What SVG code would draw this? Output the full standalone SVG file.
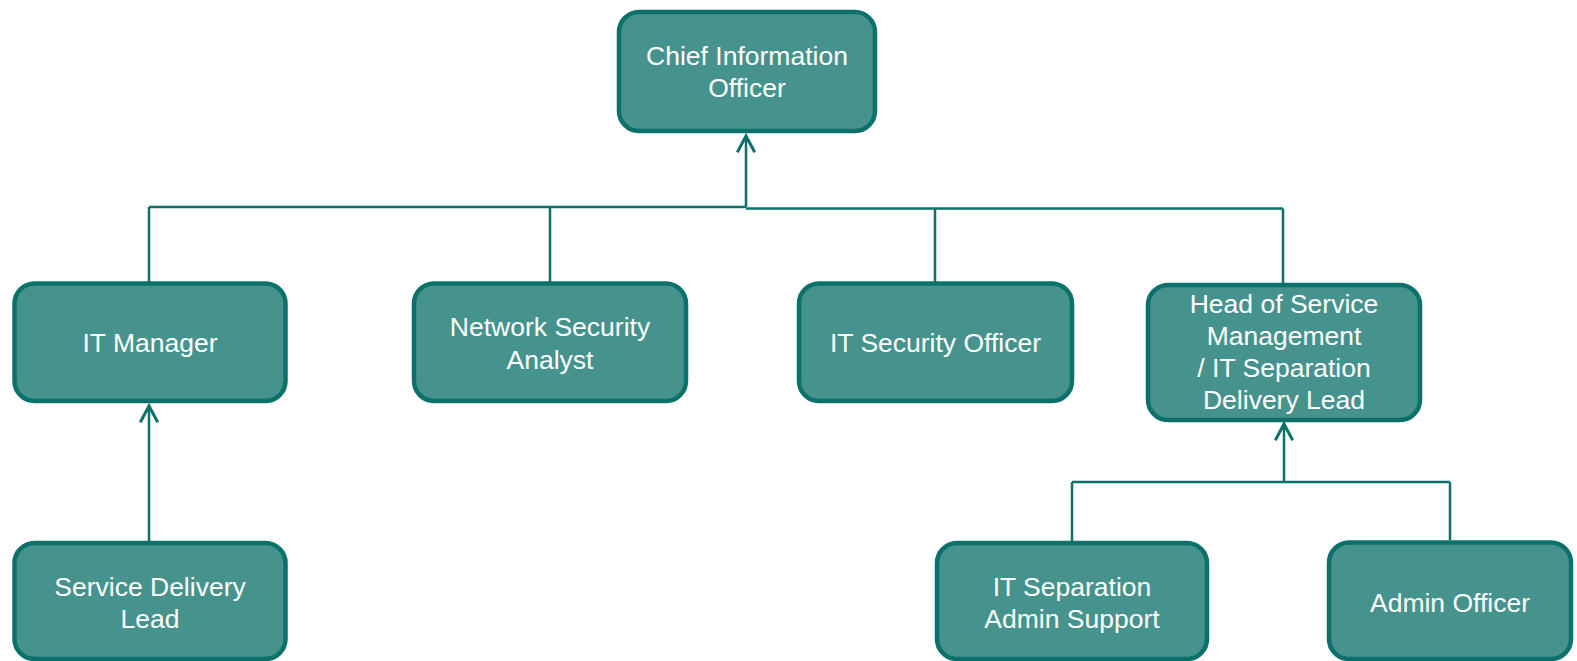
<svg xmlns="http://www.w3.org/2000/svg" width="1577" height="661" viewBox="0 0 1577 661">
<style>
.box{fill:#46938D;stroke:#0C716A;stroke-width:4.5}
.lbl{font-family:"Liberation Sans",Arial,sans-serif;font-size:26.5px;fill:#FFFFFF;text-anchor:middle}
.con{fill:none;stroke:#0C716A;stroke-width:2.5}
.ah{fill:none;stroke:#0C716A;stroke-width:3;stroke-linecap:square}
</style>
<rect width="1577" height="661" fill="#FFFFFF"/>
<g id="connectors">
<path class="con" d="M746 207V136"/>
<path class="ah" d="M738 151L746 136L754 151"/>
<path class="con" d="M149 207H746"/>
<path class="con" d="M746 208.5H1283"/>
<path class="con" d="M149 207V282"/>
<path class="con" d="M550 207V282"/>
<path class="con" d="M935 208.5V282"/>
<path class="con" d="M1283 208.5V284"/>
<path class="con" d="M149 541V406"/>
<path class="ah" d="M141 421L149 406L157 421"/>
<path class="con" d="M1072 482H1450"/>
<path class="con" d="M1072 482V541"/>
<path class="con" d="M1450 482V540"/>
<path class="con" d="M1284 482V424"/>
<path class="ah" d="M1276 439L1284 424L1292 439"/>
</g>
<g id="cio">
<rect class="box" x="619" y="12" width="256" height="119" rx="20"/>
<text class="lbl" x="747" y="65">Chief Information</text>
<text class="lbl" x="747" y="97">Officer</text>
</g>
<g id="it-manager">
<rect class="box" x="14.5" y="283.5" width="271" height="117.5" rx="20"/>
<text class="lbl" x="150" y="352">IT Manager</text>
</g>
<g id="network-security-analyst">
<rect class="box" x="414" y="283.5" width="272" height="117.5" rx="20"/>
<text class="lbl" x="550" y="336">Network Security</text>
<text class="lbl" x="550" y="368.5">Analyst</text>
</g>
<g id="it-security-officer">
<rect class="box" x="799" y="283.5" width="273" height="117.5" rx="20"/>
<text class="lbl" x="935.5" y="352">IT Security Officer</text>
</g>
<g id="head-service-management">
<rect class="box" x="1148" y="285" width="272" height="135" rx="20"/>
<text class="lbl" x="1284" y="313">Head of Service</text>
<text class="lbl" x="1284" y="345">Management</text>
<text class="lbl" x="1284" y="377">/ IT Separation</text>
<text class="lbl" x="1284" y="409">Delivery Lead</text>
</g>
<g id="service-delivery-lead">
<rect class="box" x="14.5" y="543" width="271" height="116" rx="20"/>
<text class="lbl" x="150" y="596">Service Delivery</text>
<text class="lbl" x="150" y="628">Lead</text>
</g>
<g id="it-separation-admin-support">
<rect class="box" x="937" y="543" width="270" height="116" rx="20"/>
<text class="lbl" x="1072" y="596">IT Separation</text>
<text class="lbl" x="1072" y="628">Admin Support</text>
</g>
<g id="admin-officer">
<rect class="box" x="1329" y="542.5" width="242" height="116.5" rx="20"/>
<text class="lbl" x="1450" y="612">Admin Officer</text>
</g>
</svg>
